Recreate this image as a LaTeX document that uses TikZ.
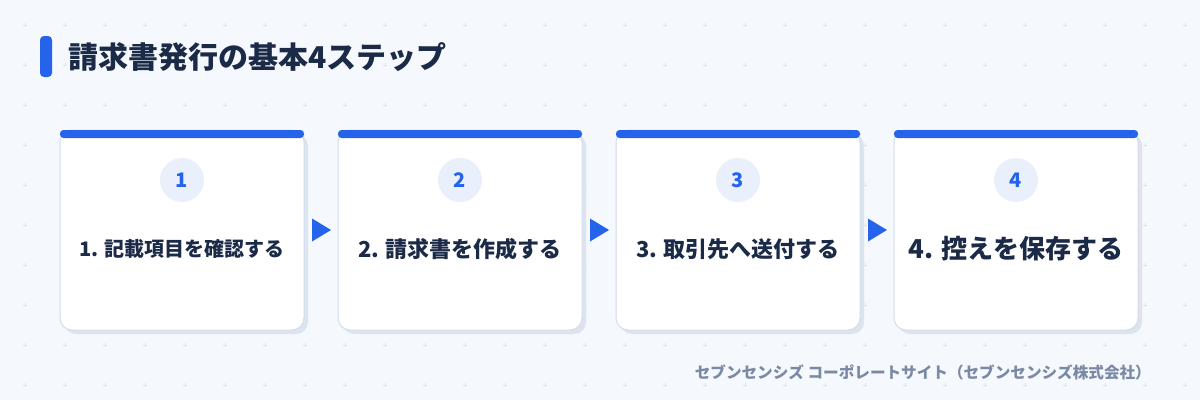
\documentclass[tikz,border=0pt]{standalone}
\usepackage{fontspec}
\setmainfont{Noto Sans CJK JP}
\usetikzlibrary{positioning}
\definecolor{bg}{HTML}{F5F8FC}
\definecolor{accent}{HTML}{2563EB}
\definecolor{navy}{HTML}{1B2A47}
\definecolor{cardborder}{HTML}{D3DDEB}
\definecolor{shadowc}{HTML}{DCE4EF}
\definecolor{circfill}{HTML}{E9F0FC}
\definecolor{gridc}{HTML}{E0E6F0}
\definecolor{footc}{HTML}{7A8AA5}
\tikzset{
  cardbox/.style={draw=cardborder, line width=1pt, fill=white, rounded corners=12pt, minimum width=244pt, minimum height=200pt, inner sep=0pt},
  shadowbox/.style={fill=shadowc, rounded corners=12pt, minimum width=244pt, minimum height=200pt, inner sep=0pt},
  topbar/.style={fill=accent, rounded corners=3.5pt, minimum width=244pt, minimum height=8pt, inner sep=0pt},
  numcirc/.style={circle, fill=circfill, minimum size=44pt, inner sep=0pt, text=accent, font=\fontsize{20}{20}\selectfont\bfseries},
  steplabel/.style={text=navy, inner sep=0pt, font=\bfseries},
  flowarrow/.style={fill=accent, draw=none},
}
\begin{document}
\begin{tikzpicture}[x=1pt,y=-1pt]
\useasboundingbox (0,0) rectangle (1200,400);
\fill[bg] (0,0) rectangle (1200,400);
% grid marks
\foreach \i in {0,...,29}{
  \foreach \j in {0,...,9}{
    \draw[gridc, line width=0.7pt] ({25+40*\i-1.8},{25+40*\j}) -- ({25+40*\i+1.8},{25+40*\j})
      ({25+40*\i},{25+40*\j-1.8}) -- ({25+40*\i},{25+40*\j+1.8});
  }
}
% title
\node[fill=accent, rounded corners=4pt, minimum width=12pt, minimum height=41pt, inner sep=0pt] (tbar) at (46,56.5) {};
\node[anchor=west, text=navy, inner sep=0pt, font=\fontsize{30}{30}\selectfont\bfseries] (title) at (68,57) {請求書発行の基本4ステップ};
% cards
\foreach \k/\num/\lab/\fs in {1/1/{1. 記載項目を確認する}/20, 2/2/{2. 請求書を作成する}/22, 3/3/{3. 取引先へ送付する}/22, 4/4/{4. 控えを保存する}/26}{
  \pgfmathsetmacro{\cx}{182+278*(\k-1)}
  \node[shadowbox] (sh\k) at (\cx+4,234) {};
  \node[cardbox] (card\k) at (\cx,230) {};
  \node[topbar] (bar\k) at (\cx,134) {};
  \node[numcirc] (circ\k) at (\cx,180) {\num};
  \node[steplabel, font=\fontsize{\fs}{\fs}\selectfont\bfseries] (lab\k) at (\cx,249) {\lab};
}
% arrows
\foreach \a/\b in {1/2,2/3,3/4}{
  \path (card\a.east) -- (card\b.west) coordinate[pos=0.5] (m\a);
  \fill[flowarrow] ([xshift=-9pt,yshift=-11.5pt]m\a) -- ([xshift=10pt]m\a) -- ([xshift=-9pt,yshift=11.5pt]m\a) -- cycle;
}
% footer
\node[anchor=east, text=footc, inner sep=0pt, font=\fontsize{15.6}{15.6}\selectfont\bfseries] (foot) at (1151,372) {セブンセンシズ コーポレートサイト（セブンセンシズ株式会社）};
\end{tikzpicture}
\end{document}
